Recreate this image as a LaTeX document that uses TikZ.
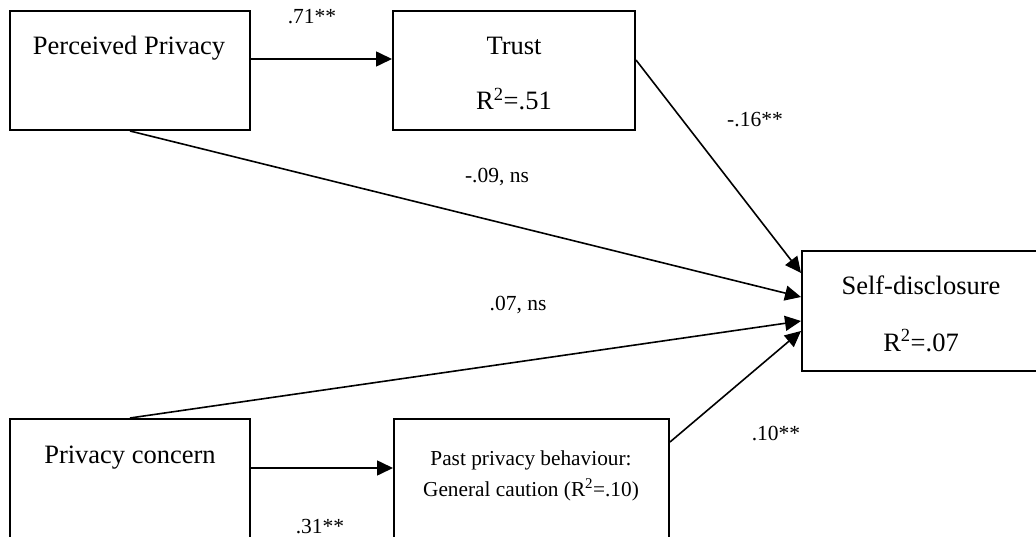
\documentclass[tikz,border=0pt]{standalone}
\usepackage{fontspec}
\setmainfont{Liberation Serif}
\usetikzlibrary{arrows.meta}
\begin{document}
\begin{tikzpicture}[x=1pt,y=-1pt,
  box/.style={draw, line width=2pt, rectangle, inner sep=0pt},
  main/.style={font=\fontsize{26.5}{30}\selectfont, anchor=base, inner sep=0pt},
  small/.style={font=\fontsize{21.3}{25}\selectfont, anchor=base, inner sep=0pt},
  lab/.style={font=\fontsize{21.5}{25}\selectfont, anchor=base, inner sep=0pt},
  arr/.style={line width=1.6pt, -{Triangle[length=16pt,width=15pt]}}]
\useasboundingbox (0,0) rectangle (1036,537);
\clip (0,0) rectangle (1036,537);
% boxes
\node[box, minimum width=240pt, minimum height=119pt] (pp) at (130,70.5) {};
\node[box, minimum width=242pt, minimum height=119pt] (trust) at (514,70.5) {};
\node[box, minimum width=238pt, minimum height=120pt] (sd) at (921,311) {};
\node[box, minimum width=240pt, minimum height=141pt] (pc) at (130,489.5) {};
\node[box, minimum width=275pt, minimum height=141pt] (past) at (531.5,489.5) {};
% texts
\node[main] (tpp) at (129,55) {Perceived Privacy};
\node[main] (ttr) at (514,55) {Trust};
\node[main] (ttr2) at (514,110) {R\textsuperscript{2}=.51};
\node[main] (tsd) at (921,295) {Self-disclosure};
\node[main] (tsd2) at (921,351) {R\textsuperscript{2}=.07};
\node[main] (tpc) at (130,463) {Privacy concern};
\node[small] (tpa) at (531,465) {Past privacy behaviour:};
\node[small] (tpa2) at (531,496) {General caution (R\textsuperscript{2}=.10)};
% connectors
\draw[arr] ([yshift=11.5pt]pp.east) -- ([yshift=11.5pt]trust.west);
\draw[arr] ([yshift=10.5pt]trust.east) -- ([yshift=38pt]sd.west);
\draw[arr] (pp.south) -- ([yshift=14pt]sd.west);
\draw[arr] (pc.north) -- ([yshift=-10pt]sd.west);
\draw[arr] ([yshift=47.5pt]past.east) -- ([yshift=-20pt]sd.west);
\draw[arr] ([yshift=21.5pt]pc.east) -- ([yshift=21.5pt]past.west);
% labels
\node[lab] (l1) at (312,24) {.71**};
\node[lab] (l2) at (755,127) {-.16**};
\node[lab] (l3) at (497,183) {-.09, ns};
\node[lab] (l4) at (518,311) {.07, ns};
\node[lab] (l5) at (776,440) {.10**};
\node[lab] (l6) at (320,533) {.31**};
\end{tikzpicture}
\end{document}
